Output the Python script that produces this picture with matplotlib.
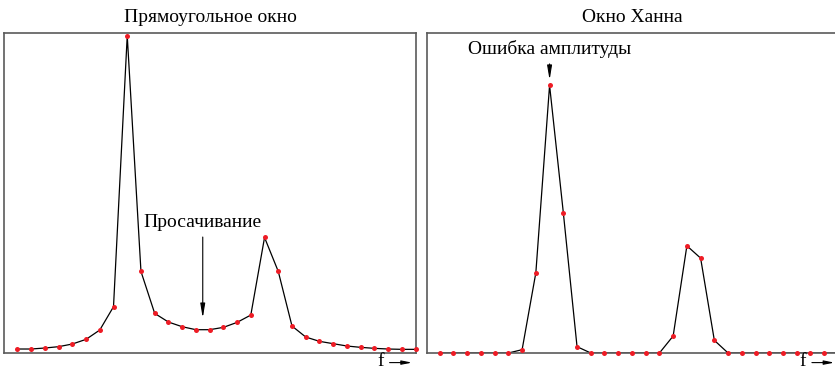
import matplotlib
matplotlib.use("Agg")
import matplotlib.pyplot as plt

# spectrum samples (arbitrary amplitude units)
bins = list(range(30))
rect_amp = [12, 12, 15, 19, 27, 41, 69, 139, 953, 245, 119, 93, 79, 70, 70,
            77, 92, 114, 347, 245, 81, 48, 35, 28, 21, 17, 14, 12, 11, 11]
hann_amp = [0, 0, 0, 0, 0, 0, 10, 241, 804, 422, 19, 0, 0, 0, 0,
            0, 0, 51, 322, 285, 38, 0, 0, 0, 0, 0, 0, 0, 0, 0]

titles = ['Прямоугольное окно', 'Окно Ханна']
leak_label = 'Просачивание'
err_label = 'Ошибка амплитуды'

plt.rcParams['font.family'] = ['Liberation Serif', 'DejaVu Serif']

fig = plt.figure(figsize=(8.35, 3.71), dpi=100)
ax1 = fig.add_axes([0.0052, 0.0485, 0.4925, 0.8615])
ax2 = fig.add_axes([0.511, 0.0485, 0.4925, 0.8615])

for ax, amp, title in [(ax1, rect_amp, titles[0]), (ax2, hann_amp, titles[1])]:
    ax.plot(bins, amp, color='black', lw=0.9, zorder=2)
    ax.plot(bins, amp, 'o', color='#ee1c25', ms=3.6, mec='none', zorder=3,
            clip_on=False)
    ax.set_xlim(-0.95, 29.0)
    ax.set_ylim(0, 960)
    ax.set_xticks([])
    ax.set_yticks([])
    for s in ax.spines.values():
        s.set_color('#5a5a5a')
        s.set_linewidth(1.2)
    ax.set_title(title, fontsize=14, pad=8)
    # f -> label under the right corner
    ax.text(0.915, -0.027, 'f', transform=ax.transAxes, fontsize=14,
            ha='center', va='center')
    ax.annotate('', xy=(0.998, -0.03), xytext=(0.93, -0.03),
                xycoords='axes fraction', textcoords='axes fraction',
                arrowprops=dict(arrowstyle='-|>,head_length=0.6,head_width=0.12',
                                lw=0.8, color='black'),
                annotation_clip=False)

ax1.annotate(leak_label, xy=(13.5, 105), xytext=(13.5, 365),
             ha='center', va='bottom', fontsize=14,
             arrowprops=dict(arrowstyle='-|>,head_length=0.6,head_width=0.1',
                             lw=0.8, color='black', shrinkA=2, shrinkB=0))

ax2.annotate(err_label, xy=(8, 820), xytext=(8, 885),
             ha='center', va='bottom', fontsize=14,
             arrowprops=dict(arrowstyle='-|>,head_length=0.6,head_width=0.1',
                             lw=0.8, color='black', shrinkA=2, shrinkB=0))

plt.savefig('out.png', dpi=100)
plt.close()
